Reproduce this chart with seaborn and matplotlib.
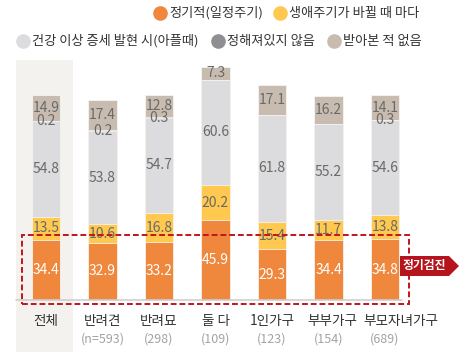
import numpy as np
import pandas as pd
import matplotlib
matplotlib.use("Agg")
import matplotlib.pyplot as plt
from matplotlib.patches import Rectangle, Polygon
from matplotlib.lines import Line2D
import seaborn as sns

groups = ["전체", "반려견", "반려묘", "둘 다", "1인가구", "부부가구", "부모자녀가구"]
counts = ["", "(n=593)", "(298)", "(109)", "(123)", "(154)", "(689)"]
series = ["정기적(일정주기)", "생애주기가 바뀔 때 마다", "건강 이상 증세 발현 시(아플때)",
          "정해져있지 않음", "받아본 적 없음"]
regular = [34.4, 32.9, 33.2, 45.9, 29.3, 34.4, 34.8]
lifecycle = [13.5, 10.6, 16.8, 20.2, 15.4, 11.7, 13.8]
sick = [54.8, 53.8, 54.7, 60.6, 61.8, 55.2, 54.6]
undecided = [0.2, 0.2, 0.3, 0.0, 0.0, 0.0, 0.3]
never = [14.9, 17.4, 12.8, 7.3, 17.1, 16.2, 14.1]
colors = ["#EF873C", "#FFC84E", "#DCDCDF", "#8E8E93", "#C8BCB0"]

sns.set_theme(style="white")
plt.rcParams["font.family"] = ["Noto Sans CJK KR", "DejaVu Sans"]

W, H = 475, 357
fig = plt.figure(figsize=(W / 100, H / 100), dpi=100)
ax = fig.add_axes([0, 0, 1, 1])

x0, dx = 46, 56.5      # pixel of first category, pixel per category
base, k = 300, 1.74    # baseline pixel row, pixel per percent

def px(x, y):
    return (x - x0) / dx, (base - y) / k

df = pd.DataFrame({"group": groups, "s0": regular, "s1": lifecycle, "s2": sick,
                   "s3": undecided, "s4": never})
cols = ["s0", "s1", "s2", "s3", "s4"]
cum = df[cols].cumsum(axis=1)

# background panel behind 전체
(bx0, by0), (bx1, by1) = px(16, 352), px(73, 60)
ax.add_patch(Rectangle((bx0, by0), bx1 - bx0, by1 - by0, color="#F4F2EE", zorder=0, lw=0))

for i in reversed(range(len(cols))):
    tmp = pd.DataFrame({"group": groups, "v": cum[cols[i]]})
    sns.barplot(data=tmp, x="group", y="v", order=groups, color=colors[i], width=0.5,
                saturation=1, errorbar=None, edgecolor="#F7F3EE", linewidth=0.6, ax=ax, zorder=2)

# baseline
lx0, ly = px(16, 300)
lx1, _ = px(402, 300)
ax.plot([lx0, lx1], [ly, ly], color="#CFCFCF", lw=1.2, zorder=3)

# value labels
for j, g in enumerate(groups):
    bottom = 0
    for i, c in enumerate(cols):
        v = df.loc[j, c]
        if v > 0:
            ax.text(j, bottom + v / 2, f"{v:.1f}", ha="center", va="center",
                    fontsize=10, color="white" if i == 0 else "#6A6A6A",
                    fontweight="light", zorder=5)
        bottom += v

# category labels (long last label nudged right, as in the source)
shift = [0, 0, 0, 0, 0, 0.06, 0.28]
for j, g in enumerate(groups):
    ax.text(j + shift[j], px(0, 321)[1], g, ha="center", va="center", fontsize=9.8,
            color="#333333", fontweight="medium", zorder=5)
    if counts[j]:
        ax.text(j, px(0, 339)[1], counts[j], ha="center", va="center", fontsize=9,
                color="#A3A3A3", fontweight="light", zorder=5)

# red dashed box
(rx0, ry0), (rx1, ry1) = px(22, 304), px(409, 235)
ax.add_patch(Rectangle((rx0, ry0), rx1 - rx0, ry1 - ry0, fill=False, ec="#C0161E",
                       lw=1.4, ls=(0, (3, 1.5)), zorder=6))

# 정기검진 tag
pts = [px(400, 256), px(449, 256), px(459, 266), px(449, 276), px(400, 276)]
ax.add_patch(Polygon(pts, closed=True, color="#B5141C", zorder=7, lw=0))
tx, ty = px(424, 266)
ax.text(tx, ty, "정기검진", ha="center", va="center", fontsize=8.5, color="white",
        fontweight="bold", zorder=8)

# legend
legend_items = [(160, 13, 0), (280, 13, 1), (23, 41, 2), (218, 41, 3), (334, 41, 4)]
for lx, lyp, i in legend_items:
    fig.add_artist(Line2D([lx / W], [1 - lyp / H], marker="o", markersize=9.5,
                          color=colors[i], lw=0, transform=fig.transFigure))
    fig.text((lx + 9) / W, 1 - lyp / H, series[i], ha="left", va="center",
             fontsize=9.5, color="#333333")

ax.set_xlim(-x0 / dx, (W - x0) / dx)
ax.set_ylim((base - H) / k, base / k)
ax.axis("off")

fig.savefig("out.png", dpi=100)
